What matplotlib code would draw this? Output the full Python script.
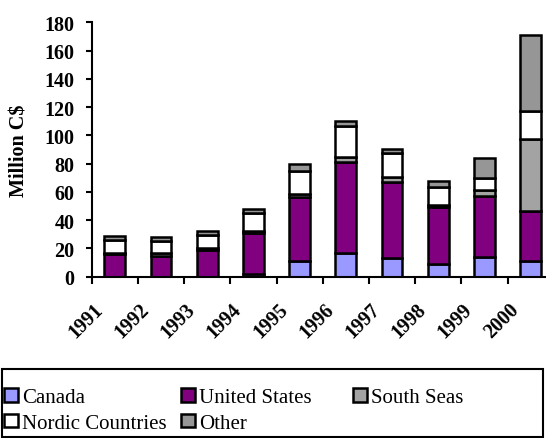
import numpy as np
import matplotlib
matplotlib.use("Agg")
import matplotlib.pyplot as plt
from matplotlib.transforms import ScaledTranslation, blended_transform_factory
from matplotlib.patches import Rectangle

# Exports by destination, million C$
years = ["1991", "1992", "1993", "1994", "1995", "1996", "1997", "1998", "1999", "2000"]
canada = [0, 0, 0, 2, 11, 17, 13, 9, 14, 11]
united_states = [16, 15, 19, 29, 45.5, 64, 54, 40, 43, 35.5]
south_seas = [1, 1.5, 1.5, 1, 2, 4, 3.5, 1.5, 4.5, 51]
nordic = [9, 8.5, 9, 13, 16, 21.5, 17, 13, 8.5, 20]
other = [2.5, 3, 2.5, 3, 5, 4, 3, 4, 14, 53.5]

series = [
    ("Canada", canada, "#9999FF"),
    ("United States", united_states, "#800080"),
    ("South Seas", south_seas, "#A3A3A3"),
    ("Nordic Countries", nordic, "#FFFFFF"),
    ("Other", other, "#969696"),
]

plt.rcParams["font.family"] = ["Liberation Serif", "DejaVu Serif"]

W, H, DPI = 546, 439, 100
fig = plt.figure(figsize=(W / DPI, H / DPI), dpi=DPI)

# Axes placed in pixel terms; the right edge runs past the figure
left, bottom, top = 91.7, 277.7, 23.3
width = 462.0
ax = fig.add_axes([left / W, (H - bottom) / H, width / W, (bottom - top) / H])

x = np.arange(len(years))
base = np.zeros(len(years))
handles = {}
for name, vals, color in series:
    vals = np.asarray(vals, dtype=float)
    b = ax.bar(x, vals, width=0.45, bottom=base, color=color,
               edgecolor="black", linewidth=1.8, label=name, zorder=2)
    handles[name] = b
    base += vals

ax.set_xlim(-0.5, 9.5)
ax.set_ylim(0, 180)
ax.set_yticks(np.arange(0, 181, 20))
ax.tick_params(axis="y", direction="out", length=4.3, width=1.5, pad=8.0,
               labelsize=14.5)
for lab in ax.get_yticklabels():
    lab.set_fontweight("bold")

# Tick marks between categories, labels centred under each bar
ax.set_xticks(np.arange(-0.5, 10, 1))
ax.set_xticklabels([])
ax.tick_params(axis="x", which="major", direction="out", length=5, width=1.5)
ax.set_xticks(x, minor=True)
ax.set_xticklabels(years, minor=True, rotation=45, ha="right", va="center",
                   rotation_mode="anchor", fontsize=14.5, fontweight="bold")
ax.tick_params(axis="x", which="minor", length=0, pad=21.5)
shift = ScaledTranslation(-0.148, 0, fig.dpi_scale_trans)
for lab in ax.get_xticklabels(minor=True):
    lab.set_transform(lab.get_transform() + shift)

for s in ("top", "right"):
    ax.spines[s].set_visible(False)
for s in ("left", "bottom"):
    ax.spines[s].set_linewidth(1.5)

ax.set_ylabel("Million C$", fontsize=14.5, fontweight="bold")
ax.yaxis.set_label_coords(30 / W, 0.5,
                          transform=blended_transform_factory(fig.transFigure, ax.transAxes))

# Legend box with three aligned columns
fig.patches.append(Rectangle((1.5 / W, 1.0 / H), 541.5 / W, 68 / H,
                             transform=fig.transFigure, fill=False,
                             edgecolor="black", linewidth=1.5))
columns = [(["Canada", "Nordic Countries"], 4),
           (["United States", "Other"], 181),
           (["South Seas"], 353)]
for names, xpx in columns:
    leg = fig.legend([handles[n] for n in names], names,
                     loc="upper left", bbox_to_anchor=(xpx / W, (H - 389) / H),
                     frameon=False, fontsize=15, handlelength=0.65,
                     handleheight=0.65, handletextpad=0.2, labelspacing=0.3,
                     borderpad=0.0, borderaxespad=0.0)

fig.savefig("out.png", dpi=DPI)
